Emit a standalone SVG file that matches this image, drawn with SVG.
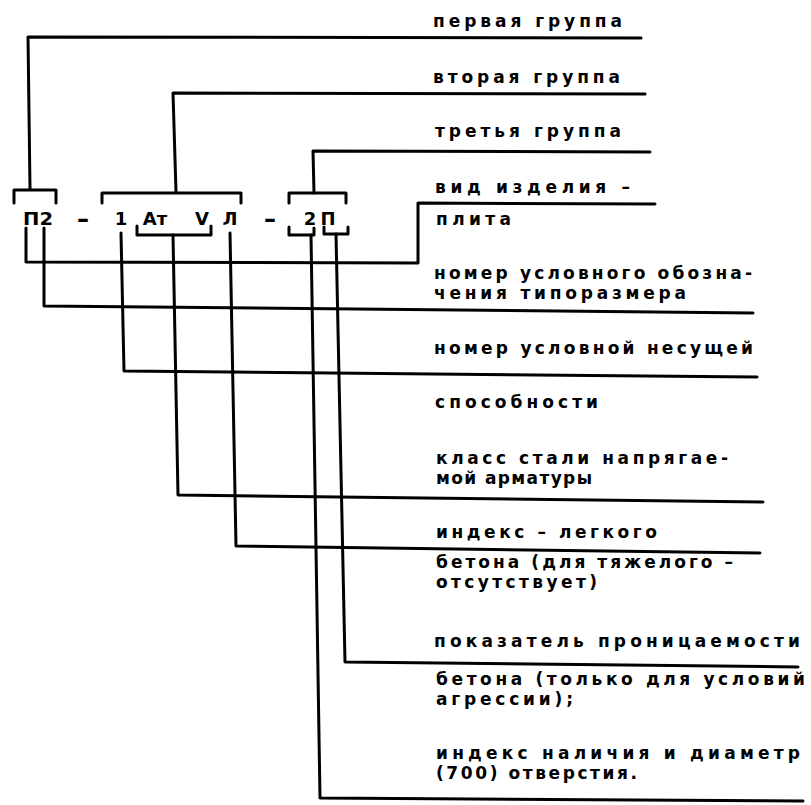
<svg xmlns="http://www.w3.org/2000/svg" width="811" height="805" viewBox="0 0 811 805">
<style>
.ln{fill:none;stroke:#000;stroke-width:3;stroke-linejoin:round;stroke-linecap:round}
.lbl{font-family:"DejaVu Sans","Liberation Sans",sans-serif;font-weight:bold;font-size:17px;fill:#000}
.code{font-family:"DejaVu Sans","Liberation Sans",sans-serif;font-weight:bold;font-size:18px;fill:#000;text-anchor:middle}
.dash{font-size:24px}
</style>
<rect width="811" height="805" fill="#fff"/>
<g id="formula">
<text class="code" x="38" y="225" textLength="30" lengthAdjust="spacingAndGlyphs">П2</text>
<text class="code dash" x="83" y="227">–</text>
<text class="code" x="121" y="225">1</text>
<text class="code" x="155" y="225">Ат</text>
<text class="code" x="202" y="225">V</text>
<text class="code" x="230" y="225">Л</text>
<text class="code dash" x="270" y="227">–</text>
<text class="code" x="310" y="225">2</text>
<text class="code" x="328" y="225">П</text>
<path class="ln" d="M14 203 L14 190 L56 190 L56 203"/>
<path class="ln" d="M102 203 L102 193 L241 193 L241 203"/>
<path class="ln" d="M289 203 L289 193 L346 193 L346 203"/>
<path class="ln" d="M137 226 L137 235 L211 235 L211 226"/>
<path class="ln" d="M289 227 L289 235 L314 235 L314 228"/>
<path class="ln" d="M324 227 L324 234 L348 234 L348 227"/>
</g>
<g id="connectors">
<path class="ln" d="M30 189 L28 37 L641 38"/>
<path class="ln" d="M176 192 L173 93 L645 94"/>
<path class="ln" d="M314 193 L313 151 L650 152"/>
<path class="ln" d="M26 228 L26 262 L418 263 L418 203 L655 204"/>
<path class="ln" d="M44 228 L44 306 L753 313"/>
<path class="ln" d="M121 233 L124 371 L757 377"/>
<path class="ln" d="M173 235 L178 495 L763 502"/>
<path class="ln" d="M230 233 L236 546 L760 553"/>
<path class="ln" d="M336 234 L345 662 L798 667"/>
<path class="ln" d="M311 235 L320 798 L803 801"/>
</g>
<g id="label-group1"><text class="lbl" x="433" y="27" textLength="189" lengthAdjust="spacing">первая группа</text></g>
<g id="label-group2"><text class="lbl" x="433" y="83" textLength="187" lengthAdjust="spacing">вторая группа</text></g>
<g id="label-group3"><text class="lbl" x="435" y="137" textLength="186" lengthAdjust="spacing">третья группа</text></g>
<g id="label-type">
<text class="lbl" x="435" y="193" textLength="195" lengthAdjust="spacing">вид изделия –</text>
<text class="lbl" x="436" y="225" textLength="75" lengthAdjust="spacing">плита</text>
</g>
<g id="label-size">
<text class="lbl" x="434" y="279" textLength="318" lengthAdjust="spacing">номер условного обозна-</text>
<text class="lbl" x="434" y="299" textLength="252" lengthAdjust="spacing">чения типоразмера</text>
</g>
<g id="label-capacity">
<text class="lbl" x="434" y="354" textLength="319" lengthAdjust="spacing">номер условной несущей</text>
<text class="lbl" x="435" y="408" textLength="163" lengthAdjust="spacing">способности</text>
</g>
<g id="label-steel">
<text class="lbl" x="436" y="464" textLength="292" lengthAdjust="spacing">класс стали напрягае-</text>
<text class="lbl" x="436" y="484" textLength="156" lengthAdjust="spacing">мой арматуры</text>
</g>
<g id="label-light">
<text class="lbl" x="436" y="538" textLength="221" lengthAdjust="spacing">индекс – легкого</text>
<text class="lbl" x="436" y="568" textLength="297" lengthAdjust="spacing">бетона (для тяжелого –</text>
<text class="lbl" x="436" y="588" textLength="161" lengthAdjust="spacing">отсутствует)</text>
</g>
<g id="label-permeability">
<text class="lbl" x="434" y="647" textLength="366" lengthAdjust="spacing">показатель проницаемости</text>
<text class="lbl" x="436" y="685" textLength="369" lengthAdjust="spacing">бетона (только для условий</text>
<text class="lbl" x="436" y="705" textLength="137" lengthAdjust="spacing">агрессии);</text>
</g>
<g id="label-hole">
<text class="lbl" x="436" y="759" textLength="364" lengthAdjust="spacing">индекс наличия и диаметр</text>
<text class="lbl" x="436" y="779" textLength="201" lengthAdjust="spacing">(700) отверстия.</text>
</g>
</svg>
